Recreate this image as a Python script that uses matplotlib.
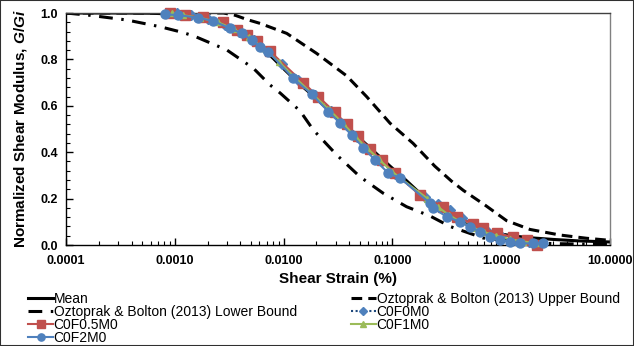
import matplotlib
matplotlib.use("Agg")
import matplotlib.pyplot as plt
from matplotlib.ticker import FixedLocator, LogLocator, MultipleLocator, NullFormatter
from matplotlib.patches import Rectangle

plt.rcParams['font.family'] = ['Liberation Sans', 'DejaVu Sans']
plt.rcParams['mathtext.fontset'] = 'custom'
plt.rcParams['mathtext.rm'] = 'Liberation Sans:bold'
plt.rcParams['mathtext.it'] = 'Liberation Sans:bold:italic'
plt.rcParams['mathtext.bf'] = 'Liberation Sans:bold'

# ---------------- data (strain in %, G/Gi) ----------------
mean_strain = [0.0001, 0.0003, 0.0006, 0.0009, 0.0012, 0.0016, 0.0024, 0.0032, 0.0045, 0.0061,
               0.0080, 0.0103, 0.0140, 0.0181, 0.0267, 0.0407, 0.0581, 0.0951, 0.1350, 0.186,
               0.260, 0.338, 0.450, 0.681, 1.0, 1.4, 2.0, 3.0, 5.0, 10.0]
mean_G = [1.0, 1.0, 0.999, 0.996, 0.99, 0.981, 0.962, 0.936, 0.900, 0.856,
          0.805, 0.754, 0.694, 0.649, 0.577, 0.498, 0.432, 0.340, 0.277, 0.216,
          0.165, 0.125, 0.095, 0.062, 0.047, 0.037, 0.030, 0.024, 0.018, 0.013]

upper_strain = [0.0001, 0.001, 0.0028, 0.0036, 0.0046, 0.0061, 0.0107, 0.0201, 0.038, 0.0581,
                0.0951, 0.155, 0.245, 0.35, 0.45, 0.72, 1.12, 1.84, 3.47, 6.1, 10.0]
upper_G = [1.0, 1.0, 1.0, 0.99, 0.972, 0.955, 0.912, 0.826, 0.729, 0.639,
           0.525, 0.438, 0.34, 0.275, 0.235, 0.17, 0.105, 0.067, 0.043, 0.029, 0.02]

lower_strain = [0.0001, 0.000166, 0.000361, 0.000731, 0.00112, 0.00148, 0.0030, 0.00527, 0.0075,
                0.0093, 0.01416, 0.01875, 0.0308, 0.0504, 0.0824, 0.135, 0.222, 0.338, 0.685,
                1.5, 3.0, 10.0]
lower_G = [1.0, 0.99, 0.97, 0.941, 0.919, 0.902, 0.841, 0.762, 0.69,
           0.655, 0.578, 0.496, 0.388, 0.294, 0.223, 0.165, 0.125, 0.08, 0.03,
           0.012, 0.006, 0.002]

f0_strain = [0.00104, 0.0014, 0.002, 0.0029, 0.0039, 0.0053, 0.0071, 0.0096, 0.0135, 0.0195,
             0.0275, 0.0365, 0.047, 0.061, 0.08, 0.105, 0.2, 0.26, 0.338, 0.44, 0.58, 0.75,
             1.0, 1.35, 1.8]
f0_G = [0.999, 0.99, 0.975, 0.95, 0.92, 0.882, 0.838, 0.78, 0.71, 0.645,
        0.578, 0.52, 0.465, 0.412, 0.36, 0.305, 0.205, 0.175, 0.151, 0.115, 0.083, 0.058,
        0.038, 0.022, 0.012]

f05_strain = [0.0009, 0.00124, 0.00182, 0.00277, 0.00371, 0.00458, 0.00566, 0.0075, 0.0151,
              0.0208, 0.0297, 0.038, 0.0486, 0.0622, 0.0798, 0.1057, 0.179, 0.294, 0.39,
              0.554, 0.683, 0.91, 1.29, 1.71, 2.12]
f05_G = [0.998, 0.991, 0.982, 0.962, 0.927, 0.905, 0.878, 0.835, 0.70,
         0.64, 0.572, 0.52, 0.468, 0.415, 0.365, 0.31, 0.215, 0.165, 0.12,
         0.09, 0.072, 0.05, 0.035, 0.022, 0.002]

f1_strain = [0.00095, 0.0012, 0.0017, 0.0025, 0.0035, 0.0048, 0.0065, 0.009, 0.0125, 0.018,
             0.026, 0.035, 0.045, 0.058, 0.075, 0.1, 0.21, 0.26, 0.33, 0.42, 0.55, 0.7,
             0.9, 1.2, 1.6, 2.1]
f1_G = [1.0, 0.99, 0.98, 0.96, 0.93, 0.895, 0.85, 0.79, 0.725, 0.655,
        0.585, 0.525, 0.47, 0.42, 0.37, 0.315, 0.2, 0.165, 0.13, 0.1, 0.075, 0.055,
        0.04, 0.025, 0.015, 0.008]

f2_strain = [0.00081, 0.00107, 0.00163, 0.00224, 0.00321, 0.00412, 0.00509, 0.00607, 0.00719,
             0.0123, 0.0181, 0.0258, 0.033, 0.0423, 0.054, 0.0692, 0.0917, 0.118, 0.222,
             0.238, 0.316, 0.418, 0.517, 0.638, 0.789, 0.975, 1.205, 1.49, 1.96, 2.42]
f2_G = [0.994, 0.991, 0.980, 0.966, 0.934, 0.912, 0.884, 0.855, 0.834,
        0.718, 0.650, 0.575, 0.525, 0.474, 0.420, 0.366, 0.310, 0.288, 0.180,
        0.158, 0.122, 0.100, 0.079, 0.057, 0.036, 0.022, 0.014, 0.007, 0.007, 0.007]

x_ticks = [0.0001, 0.001, 0.01, 0.1, 1.0, 10.0]
x_ticklabels = ["0.0001", "0.0010", "0.0100", "0.1000", "1.0000", "10.0000"]
y_ticks = [0.0, 0.2, 0.4, 0.6, 0.8, 1.0]
y_ticklabels = ["0.0", "0.2", "0.4", "0.6", "0.8", "1.0"]

labels = ["Mean", "Oztoprak & Bolton (2013) Upper Bound", "Oztoprak & Bolton (2013) Lower Bound",
          "C0F0M0", "C0F0.5M0", "C0F1M0", "C0F2M0"]

# ---------------- figure ----------------
fig = plt.figure(figsize=(6.34, 3.46), dpi=100)
ax = fig.add_axes([66/634, 1-245/346, (610-66)/634, (245-13)/346])

RED = '#C0504D'
GREEN = '#9BBB59'
BLUE = '#4F81BD'
NAVY = '#1F497D'

h_mean, = ax.plot(mean_strain, mean_G, color='black', lw=2.2, label=labels[0], zorder=2)
h_up, = ax.plot(upper_strain, upper_G, color='black', lw=2.2, dashes=(3.5, 2.0), label=labels[1], zorder=2)
h_lo, = ax.plot(lower_strain, lower_G, color='black', lw=2.2, dashes=(4.5, 2.8, 0.8, 2.8), label=labels[2], zorder=2)
h_f0, = ax.plot(f0_strain, f0_G, color=NAVY, lw=1.5, ls=(0, (1, 1.2)), marker='D', ms=5,
                mfc=BLUE, mec=BLUE, label=labels[3], zorder=3, clip_on=False)
h_f05, = ax.plot(f05_strain, f05_G, color=RED, lw=1.5, marker='s', ms=6.5,
                 mfc=RED, mec=RED, label=labels[4], zorder=4, clip_on=False)
h_f1, = ax.plot(f1_strain, f1_G, color=GREEN, lw=1.5, marker='^', ms=5,
                mfc=GREEN, mec=GREEN, label=labels[5], zorder=5, clip_on=False)
h_f2, = ax.plot(f2_strain, f2_G, color=BLUE, lw=1.5, marker='o', ms=6.5,
                mfc=BLUE, mec=BLUE, label=labels[6], zorder=6, clip_on=False)

ax.set_xscale('log')
ax.set_xlim(0.0001, 10)
ax.set_ylim(0, 1.0)
ax.xaxis.set_major_locator(FixedLocator(x_ticks))
ax.set_xticklabels(x_ticklabels)
ax.xaxis.set_minor_locator(LogLocator(base=10, subs=range(2, 10)))
ax.xaxis.set_minor_formatter(NullFormatter())
ax.yaxis.set_major_locator(FixedLocator(y_ticks))
ax.set_yticklabels(y_ticklabels)
ax.yaxis.set_minor_locator(MultipleLocator(0.04))

ax.tick_params(which='major', direction='in', length=5, width=1, labelsize=9)
ax.tick_params(axis='x', which='major', pad=7)
ax.tick_params(axis='y', which='major', pad=6)
ax.tick_params(which='minor', direction='in', length=3, width=0.8)
for lab in ax.get_xticklabels() + ax.get_yticklabels():
    lab.set_fontweight('bold')
for sp in ax.spines.values():
    sp.set_color('black')
    sp.set_linewidth(1)
ax.spines['top'].set_color('#404040')
ax.spines['right'].set_color('#808080')

ax.set_xlabel('Shear Strain (%)', fontsize=11, fontweight='bold', labelpad=4)
ax.set_ylabel(r'Normalized Shear Modulus, $\mathit{G/Gi}$', fontsize=11, fontweight='bold', labelpad=8)

handles = [h_mean, h_lo, h_f05, h_f2, h_up, h_f0, h_f1]
leg = fig.legend(handles=handles, labels=[h.get_label() for h in handles], ncol=2,
                 loc='upper left', bbox_to_anchor=(28/634, 1-292/346), frameon=False,
                 fontsize=10, handlelength=1.8, handletextpad=0.05, columnspacing=3.9,
                 labelspacing=-0.08, borderpad=0, borderaxespad=0, markerscale=0.8)

fig.patches.append(Rectangle((0, 0), 1, 1, transform=fig.transFigure, fill=False,
                             edgecolor='#303030', lw=1.5, zorder=10))

fig.savefig('out.png', dpi=100)
